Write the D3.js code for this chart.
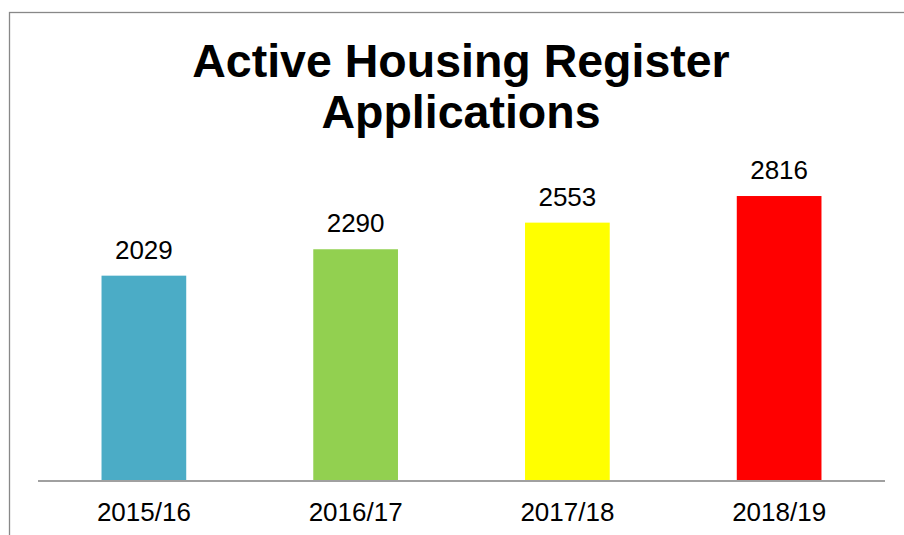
<!DOCTYPE html>
<html>
<head>
<meta charset="utf-8">
<script src="https://cdn.jsdelivr.net/npm/d3@7"></script>
<style>
  body { margin: 0; background: #fff; }
  svg { display: block; font-family: "Liberation Sans", Arial, sans-serif; }
</style>
</head>
<body>
<svg id="chart" width="904" height="535"></svg>
<script>
var years = ["2015/16", "2016/17", "2017/18", "2018/19"];
var applications = [2029, 2290, 2553, 2816];
var barColors = ["#4BACC6", "#92D050", "#FFFF00", "#FF0000"];
var titleLines = ["Active Housing Register", "Applications"];

var svg = d3.select("#chart");

// chart frame (runs past the window on the right and bottom)
svg.append("rect")
    .attr("x", 9.5).attr("y", 12.5)
    .attr("width", 1000).attr("height", 1000)
    .attr("fill", "none")
    .attr("stroke", "#888")
    .attr("stroke-width", 1.3);

var axisY = 481;
var xScale = d3.scaleBand().domain(years).range([38, 885]).paddingInner(0.6).paddingOuter(0.3);
var yScale = d3.scaleLinear().domain([0, 3000]).range([axisY, axisY - 303.6]);

var bars = svg.selectAll("g.bar").data(applications).enter().append("g").attr("class", "bar");

bars.append("rect")
    .attr("x", function (d, i) { return xScale(years[i]); })
    .attr("y", function (d) { return yScale(d); })
    .attr("width", xScale.bandwidth())
    .attr("height", function (d) { return axisY - yScale(d); })
    .attr("fill", function (d, i) { return barColors[i]; });

bars.append("text")
    .attr("x", function (d, i) { return xScale(years[i]) + xScale.bandwidth() / 2; })
    .attr("y", function (d) { return yScale(d) - 17; })
    .attr("text-anchor", "middle")
    .attr("font-size", 26)
    .attr("fill", "#000")
    .text(function (d) { return d; });

// x axis
var xAxis = svg.append("g")
    .attr("transform", "translate(0," + axisY + ")")
    .call(d3.axisBottom(xScale).tickSize(0).tickPadding(22));
xAxis.select(".domain").attr("stroke", "#A0A0A0").attr("stroke-width", 2)
    .attr("d", "M38,0H885");
xAxis.selectAll("text").attr("font-size", 26).attr("fill", "#000")
    .attr("font-family", "Liberation Sans, Arial, sans-serif");

svg.append("text")
    .attr("x", 461)
    .attr("y", 77)
    .attr("text-anchor", "middle")
    .attr("font-size", 46.5)
    .attr("font-weight", "bold")
    .selectAll("tspan").data(titleLines).enter().append("tspan")
    .attr("x", 461)
    .attr("dy", function (d, i) { return i === 0 ? 0 : 51; })
    .text(function (d) { return d; });
</script>
</body>
</html>
